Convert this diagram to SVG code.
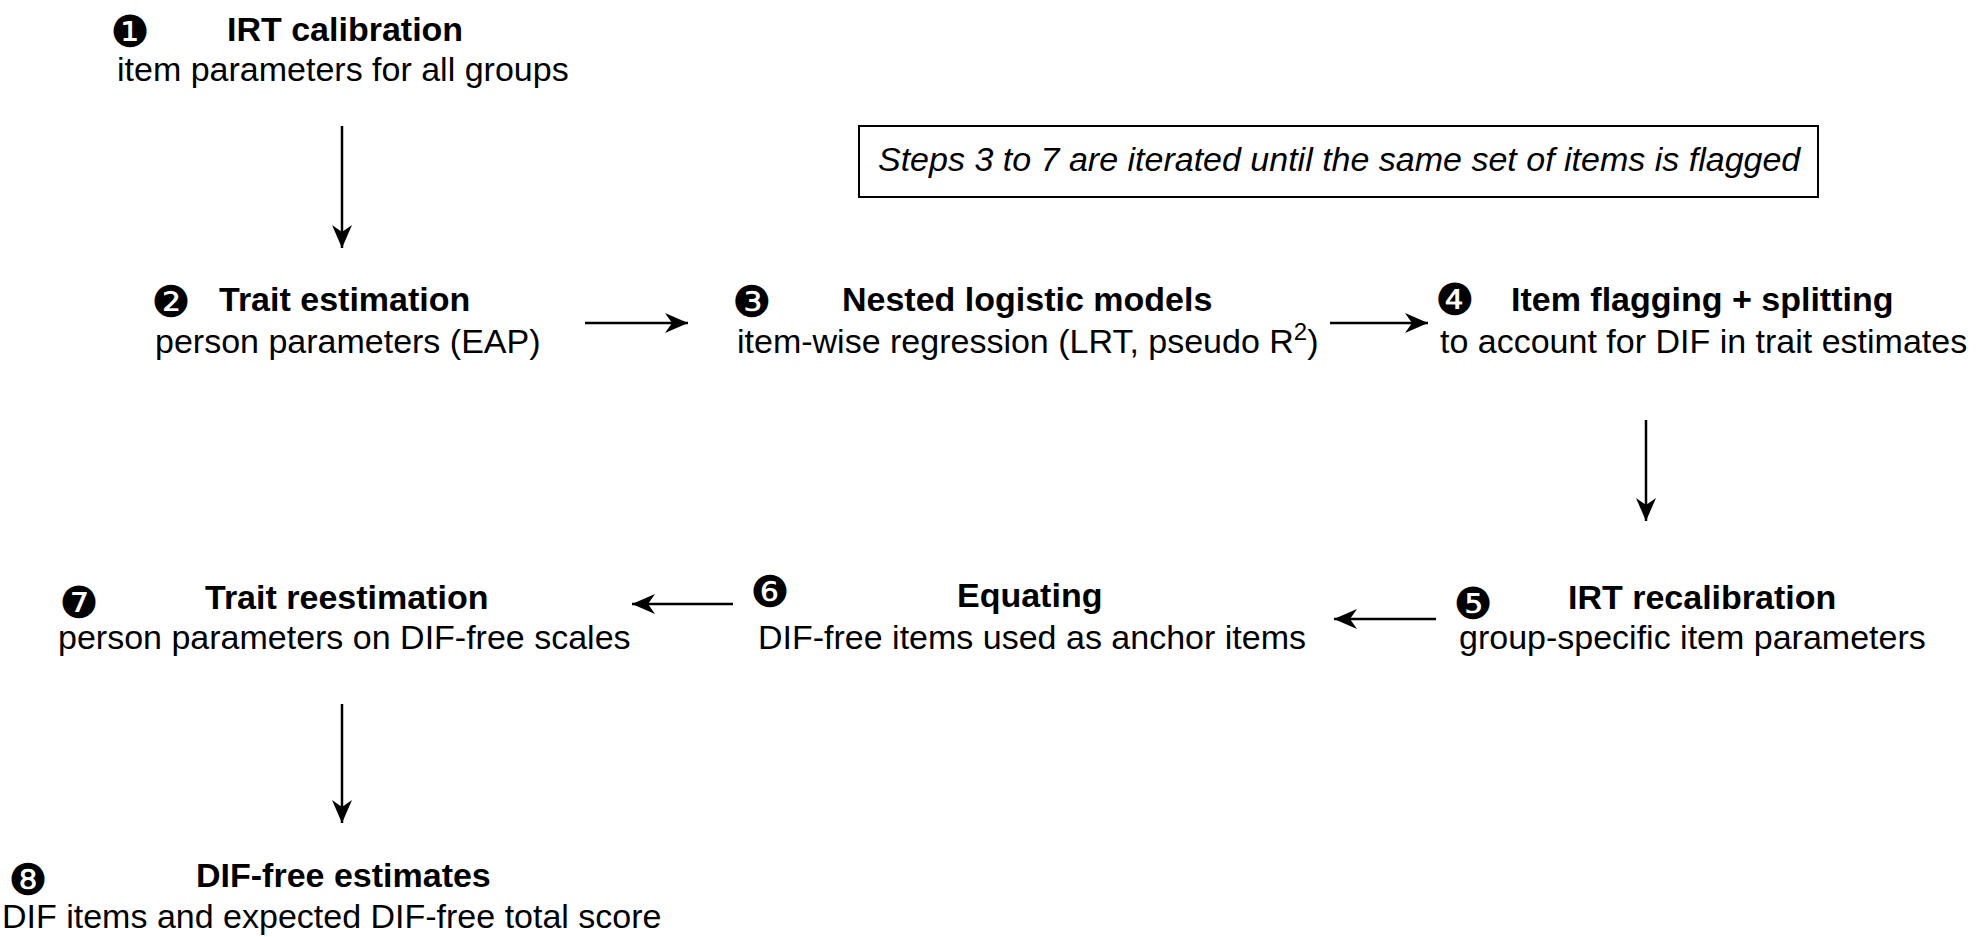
<svg xmlns="http://www.w3.org/2000/svg" width="1978" height="937" viewBox="0 0 1978 937">
<defs>
<style>
text{font-family:"Liberation Sans",Arial,Helvetica,sans-serif;font-size:34px;fill:#000}
.t{font-weight:bold}
.n{font-family:"DejaVu Sans",sans-serif;font-size:44px;text-anchor:middle}
.i{font-style:italic}
.c{stroke:#000;stroke-width:2.5;fill:none;marker-end:url(#ah)}
</style>
<marker id="ah" markerUnits="userSpaceOnUse" viewBox="-24 -12 26 24" markerWidth="26" markerHeight="24" refX="0" refY="0" orient="auto">
<path d="M0,0 L-23,-10 L-16,0 L-23,10 Z" fill="#000"/>
</marker>
</defs>
<rect width="1978" height="937" fill="#fff"/>
<g id="note">
<rect x="859" y="126" width="959" height="71" fill="none" stroke="#000" stroke-width="2"/>
<text class="i" x="878" y="171">Steps 3 to 7 are iterated until the same set of items is flagged</text>
</g>
<g id="node1">
<text class="n" x="130" y="47">❶</text>
<text class="t" x="227" y="41">IRT calibration</text>
<text x="117" y="81">item parameters for all groups</text>
</g>
<g id="node2">
<text class="n" x="171" y="317">❷</text>
<text class="t" x="219" y="311">Trait estimation</text>
<text x="155" y="353">person parameters (EAP)</text>
</g>
<g id="node3">
<text class="n" x="752" y="317">❸</text>
<text class="t" x="842" y="311">Nested logistic models</text>
<text x="737" y="353">item-wise regression (LRT, pseudo R<tspan font-size="24" dy="-13">2</tspan><tspan dy="13">)</tspan></text>
</g>
<g id="node4">
<text class="n" x="1455" y="315">❹</text>
<text class="t" x="1511" y="311">Item flagging + splitting</text>
<text x="1440" y="353">to account for DIF in trait estimates</text>
</g>
<g id="node5">
<text class="n" x="1473" y="619">❺</text>
<text class="t" x="1568" y="609">IRT recalibration</text>
<text x="1459" y="649">group-specific item parameters</text>
</g>
<g id="node6">
<text class="n" x="770" y="607">❻</text>
<text class="t" x="957" y="607">Equating</text>
<text x="758" y="649">DIF-free items used as anchor items</text>
</g>
<g id="node7">
<text class="n" x="79" y="618">❼</text>
<text class="t" x="205" y="609">Trait reestimation</text>
<text x="58" y="649">person parameters on DIF-free scales</text>
</g>
<g id="node8">
<text class="n" x="28" y="895">❽</text>
<text class="t" x="196" y="887">DIF-free estimates</text>
<text x="2" y="928">DIF items and expected DIF-free total score</text>
</g>
<g id="connectors">
<line class="c" x1="342" y1="126" x2="342" y2="248"/>
<line class="c" x1="585" y1="323" x2="688" y2="323"/>
<line class="c" x1="1330" y1="323" x2="1428" y2="323"/>
<line class="c" x1="1646" y1="420" x2="1646" y2="521"/>
<line class="c" x1="1436" y1="619" x2="1334" y2="619"/>
<line class="c" x1="733" y1="604" x2="632" y2="604"/>
<line class="c" x1="342" y1="704" x2="342" y2="823"/>
</g>
</svg>
